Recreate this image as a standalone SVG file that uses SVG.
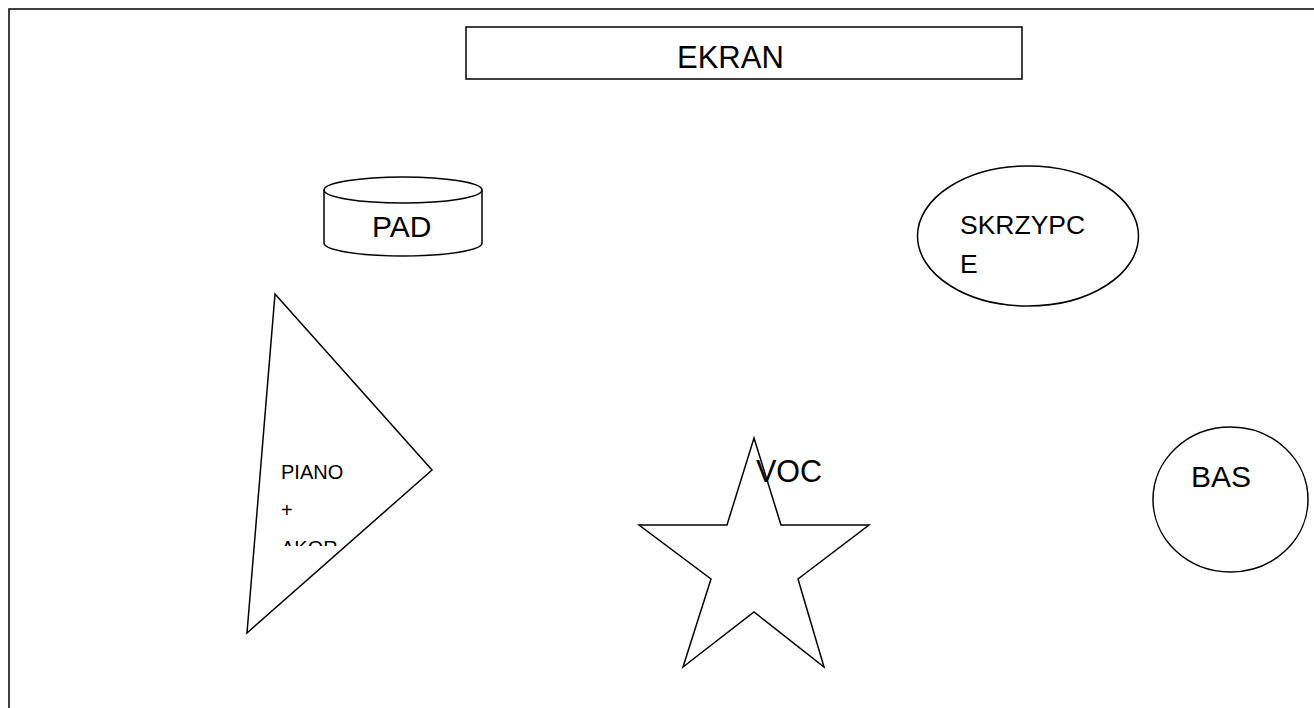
<svg xmlns="http://www.w3.org/2000/svg" width="1314" height="708" viewBox="0 0 1314 708">
<style>
.s{fill:#ffffff;stroke:#000000;stroke-width:1.5}
.t{font-family:"Liberation Sans",Arial,sans-serif;fill:#000000}
</style>
<defs>
<clipPath id="triClip"><rect x="240" y="280" width="200" height="266"/></clipPath>
</defs>
<rect width="1314" height="708" fill="#ffffff"/>
<rect id="frame" x="9" y="9" width="1400" height="800" fill="none" stroke="#000" stroke-width="1.5"/>
<g id="connectors"/>
<g id="ekran">
<rect class="s" x="466" y="27" width="556" height="52" stroke-width="2"/>
<text class="t" x="677" y="68" font-size="31">EKRAN</text>
</g>
<g id="pad">
<path class="s" d="M324,190 L324,243 A79,13 0 0 0 482,243 L482,190"/>
<ellipse class="s" cx="403" cy="190" rx="79" ry="13"/>
<text class="t" x="372" y="237" font-size="30">PAD</text>
</g>
<g id="skrzypce">
<ellipse class="s" cx="1028" cy="236" rx="110.5" ry="70"/>
<text class="t" x="960" y="234" font-size="26.5">SKRZYPC</text>
<text class="t" x="960" y="273" font-size="26.5">E</text>
</g>
<g id="piano">
<polygon class="s" points="275,294 432,470 247,633"/>
<g clip-path="url(#triClip)">
<text class="t" x="281" y="479" font-size="20">PIANO</text>
<text class="t" x="281" y="517" font-size="20">+</text>
<text class="t" x="281" y="555" font-size="20">AKOR</text>
</g>
</g>
<g id="voc">
<polygon class="s" points="754,438 781,525 869,525 798,579 824,667 754,612 683,667 711,579 639,525 727,525"/>
<text class="t" x="756" y="482" font-size="30.5">VOC</text>
</g>
<g id="bas">
<ellipse class="s" cx="1230.5" cy="499.5" rx="77.5" ry="72.5"/>
<text class="t" x="1191" y="487" font-size="30">BAS</text>
</g>
</svg>
